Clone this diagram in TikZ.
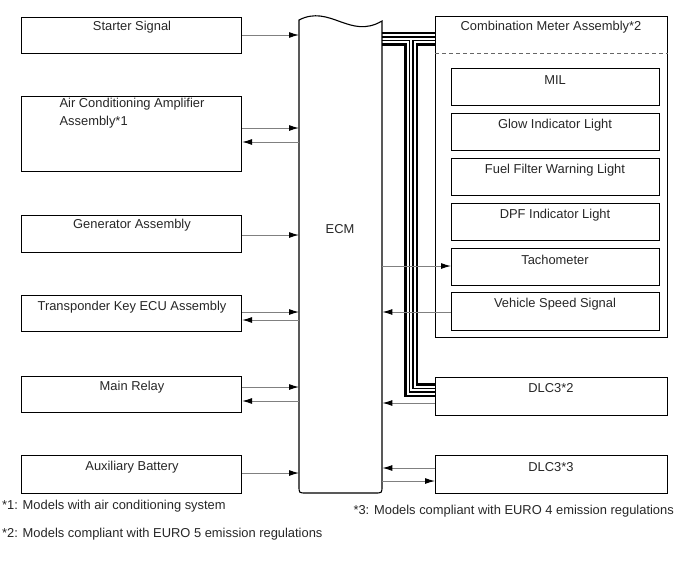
\documentclass[tikz,border=0pt]{standalone}
\usepackage{fontspec}
\setmainfont{Liberation Sans}
\usetikzlibrary{arrows.meta,calc}
\begin{document}
\begin{tikzpicture}[x=1pt,y=-1pt,
  box/.style={draw=black, line width=1.1pt},
  rbox/.style={box, inner sep=0pt, anchor=north west},
  lbl/.style={font=\fontsize{12.9}{18}\selectfont, inner sep=0pt, text=black!85},
  arr/.style={draw=black!50, line width=1pt, -{Latex[black,length=10pt,width=6pt]}}]
\useasboundingbox (0,0) rectangle (688,560);

% ECM reference node (invisible) for naming
\node[inner sep=0pt, minimum width=83pt, minimum height=473pt, anchor=north west] (ecm) at (299,20) {};

% left boxes
\node[rbox, minimum width=220pt, minimum height=36pt] (starter) at (21,17) {};
\node[rbox, minimum width=220pt, minimum height=75pt] (ac) at (21,96) {};
\node[rbox, minimum width=220pt, minimum height=37pt] (gen) at (21,215) {};
\node[rbox, minimum width=220pt, minimum height=36pt] (trans) at (21,295) {};
\node[rbox, minimum width=220pt, minimum height=36pt] (relay) at (21,376) {};
\node[rbox, minimum width=220pt, minimum height=38pt] (aux) at (21,455) {};

\node[lbl] (starterT) at (132,27) {Starter Signal};
\node[lbl, align=left] (acT) at (132,113) {Air Conditioning Amplifier\\Assembly*1};
\node[lbl] (genT) at (132,225) {Generator Assembly};
\node[lbl] (transT) at (132,307) {Transponder Key ECU Assembly};
\node[lbl] (relayT) at (132,387) {Main Relay};
\node[lbl] (auxT) at (132,467) {Auxiliary Battery};

% bus (drawn before the boxes so that their borders lie on top)
\node[inner sep=0pt, minimum width=232pt, minimum height=321pt, anchor=north west] (cmref) at (435,16) {};
\node[inner sep=0pt, minimum width=232pt, minimum height=38pt, anchor=north west] (dlc2ref) at (435,377) {};
\foreach \w/\c in {14pt/black, 9pt/white, 5pt/black, 2pt/white} {
  \draw[line width=\w, draw=\c, line cap=butt, line join=miter] (ecm.east |- 0,38.5) -- (cmref.west |- 0,38.5);
  \draw[line width=\w, draw=\c, line cap=butt, line join=miter] (411,38.5) -- (411,390) -- (dlc2ref.west |- 0,390);
}

% ECM shape
\draw[box, fill=none] (299,200) -- (299,20) .. controls (330,4) and (350,40) .. (382,21)
  -- (382,486) .. controls (382,493) .. (375,493) -- (306,493) .. controls (299,493) .. (299,486) -- cycle;
\node[lbl] (ecmT) at (340,229) {ECM};

% right side
\node[rbox, minimum width=232pt, minimum height=321pt] (cm) at (435,16) {};
\node[lbl] (cmT) at (551,27) {Combination Meter Assembly*2};
\draw[draw=black!60, line width=0.8pt, dash pattern=on 4pt off 3pt] (cm.west |- 0,53) -- (cm.east |- 0,53);

\node[rbox, minimum width=208pt, minimum height=37pt] (mil) at (451,68) {};
\node[rbox, minimum width=208pt, minimum height=37pt] (glow) at (451,113) {};
\node[rbox, minimum width=208pt, minimum height=37pt] (fuel) at (451,158) {};
\node[rbox, minimum width=208pt, minimum height=37pt] (dpf) at (451,203) {};
\node[rbox, minimum width=208pt, minimum height=37pt] (tach) at (451,248) {};
\node[rbox, minimum width=208pt, minimum height=38pt] (vss) at (451,292) {};
\node[lbl] (milT) at (555,80) {MIL};
\node[lbl] (glowT) at (555,125) {Glow Indicator Light};
\node[lbl] (fuelT) at (555,170) {Fuel Filter Warning Light};
\node[lbl] (dpfT) at (555,215) {DPF Indicator Light};
\node[lbl] (tachT) at (555,260) {Tachometer};
\node[lbl] (vssT) at (555,304) {Vehicle Speed Signal};

\node[rbox, minimum width=232pt, minimum height=38pt] (dlc2) at (435,377) {};
\node[rbox, minimum width=232pt, minimum height=38pt] (dlc3) at (435,455) {};
\node[lbl] (dlc2T) at (551,388) {DLC3*2};
\node[lbl] (dlc3T) at (551,467) {DLC3*3};

% arrows left
\draw[arr] (starter.east |- 0,35) -- (ecm.west |- 0,35);
\draw[arr] (ac.east |- 0,128) -- (ecm.west |- 0,128);
\draw[arr] (ecm.west |- 0,142) -- (ac.east |- 0,142);
\draw[arr] (gen.east |- 0,235) -- (ecm.west |- 0,235);
\draw[arr] (trans.east |- 0,312) -- (ecm.west |- 0,312);
\draw[arr] (ecm.west |- 0,320) -- (trans.east |- 0,320);
\draw[arr] (relay.east |- 0,387) -- (ecm.west |- 0,387);
\draw[arr] (ecm.west |- 0,401) -- (relay.east |- 0,401);
\draw[arr] (aux.east |- 0,473) -- (ecm.west |- 0,473);

% arrows right
\draw[arr] (ecm.east |- 0,266) -- (tach.west |- 0,266);
\draw[arr] (vss.west |- 0,312) -- (ecm.east |- 0,312);
\draw[arr] (dlc2.west |- 0,403) -- (ecm.east |- 0,403);
\draw[arr] (dlc3.west |- 0,468) -- (ecm.east |- 0,468);
\draw[arr] (ecm.east |- 0,481) -- (dlc3.west |- 0,481);

% footnotes
\node[lbl, anchor=west] (n1) at (2,506) {*1: Models with air conditioning system};
\node[lbl, anchor=east] (n3) at (674,511) {*3: Models compliant with EURO 4 emission regulations};
\node[lbl, anchor=west] (n2) at (2,534) {*2: Models compliant with EURO 5 emission regulations};
\end{tikzpicture}
\end{document}
